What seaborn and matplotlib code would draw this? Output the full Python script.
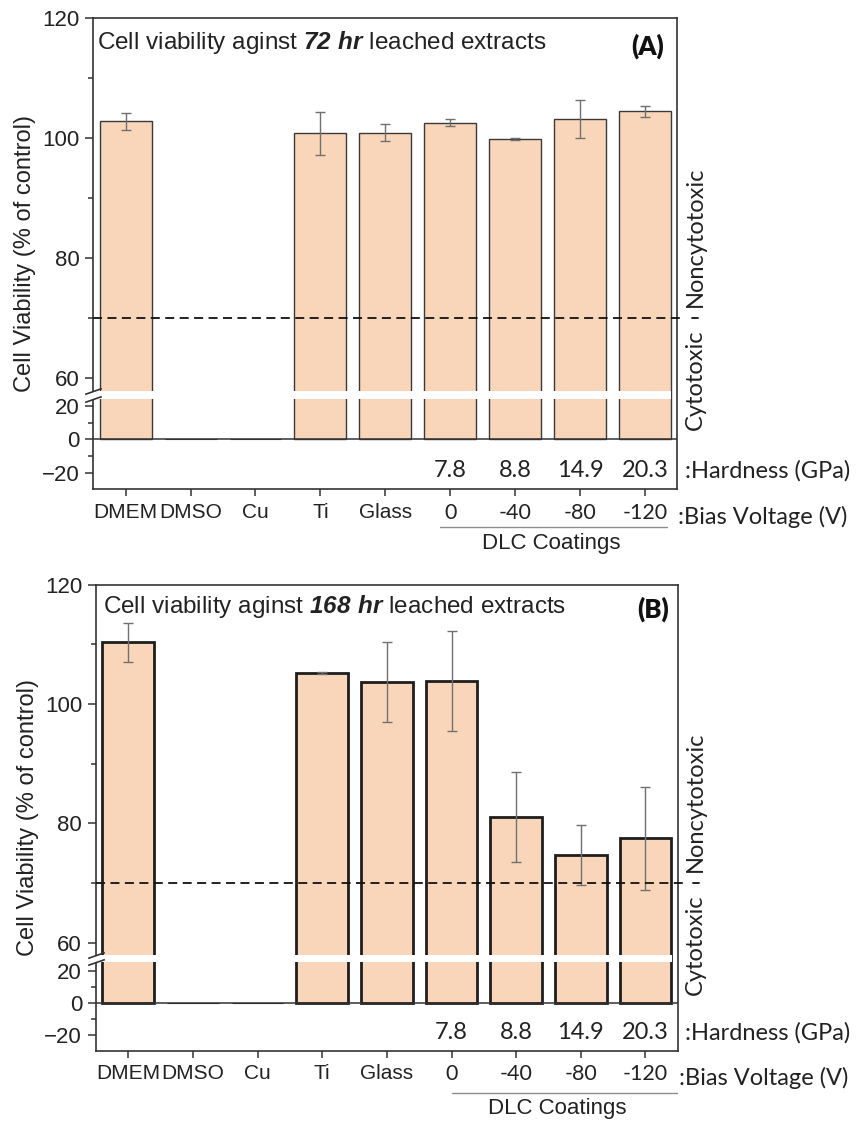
import numpy as np
import pandas as pd
import matplotlib
matplotlib.use("Agg")
import matplotlib.pyplot as plt
import seaborn as sns

# values (% of control)
samples = ["DMEM", "DMSO", "Cu", "Ti", "Glass", "0", "-40", "-80", "-120"]
viab_72 = [102.8, 0, 0, 100.8, 100.9, 102.6, 99.9, 103.2, 104.5]
err_72 = [1.4, 0, 0, 3.6, 1.4, 0.6, 0.15, 3.1, 0.9]
viab_168 = [110.3, 0, 0, 105.2, 103.7, 103.9, 81.1, 74.7, 77.5]
err_168 = [3.3, 0, 0, 0.15, 6.7, 8.4, 7.5, 5.1, 8.6]
hardness = ["7.8", "8.8", "14.9", "20.3"]
cutoff = 70

sns.set_style("ticks")
plt.rcParams["font.family"] = ["Liberation Sans", "DejaVu Sans"]
plt.rcParams["mathtext.fontset"] = "custom"
plt.rcParams["mathtext.rm"] = "Liberation Sans"
plt.rcParams["mathtext.bfit"] = "Liberation Sans:italic:bold"

bar_color = "#F9D6B9"
ink = "#222222"


def broken_scale(ax, ys, ts):
    # piecewise linear y scale: lower part squeezed, gap between ys[1] and ys[2]
    ys = np.asarray(ys, float)
    ts = np.asarray(ts, float)
    lo = (ts[1] - ts[0]) / (ys[1] - ys[0])
    hi = (ts[-1] - ts[-2]) / (ys[-1] - ys[-2])

    def fwd(v):
        v = np.asarray(v, float)
        out = np.interp(v, ys, ts)
        out = np.where(v < ys[0], ts[0] + (v - ys[0]) * lo, out)
        return np.where(v > ys[-1], ts[-1] + (v - ys[-1]) * hi, out)

    def inv(t):
        t = np.asarray(t, float)
        out = np.interp(t, ts, ys)
        out = np.where(t < ts[0], ys[0] + (t - ts[0]) / lo, out)
        return np.where(t > ts[-1], ys[-1] + (t - ts[-1]) / hi, out)

    ax.set_yscale("function", functions=(fwd, inv))


def draw_panel(ax, vals, errs, hours, tag, ys, ts, edge_lw, edge_col,
               title_xy, tag_xy, bias_y, line_x, line_y, dlc_xy):
    df = pd.DataFrame({"sample": samples, "viability": vals})
    sns.barplot(data=df, x="sample", y="viability", order=samples,
                color=bar_color, saturation=1, edgecolor=edge_col,
                linewidth=edge_lw, width=0.8, errorbar=None, ax=ax, zorder=2)
    # empty (zero) bars only show as the baseline
    for p in ax.patches:
        if p.get_height() == 0:
            p.set_linewidth(0.8)
    broken_scale(ax, ys, ts)
    ax.set_ylim(-30, 120)
    ax.set_xlim(-0.5, len(samples) - 0.5)

    xs = np.asarray(ax.get_xticks(), float)
    v = np.asarray(vals, float)
    e = np.asarray(errs, float)
    m = e > 0
    ax.errorbar(xs[m], v[m], yerr=e[m], fmt="none", ecolor="#707070",
                elinewidth=1, capsize=3.3, capthick=1, zorder=4)

    ax.axhline(0, color="#333333", lw=1.1, zorder=3)
    # white gap of the axis break
    ax.axhspan(ys[1], ys[2], xmin=-0.006, xmax=0.99, color="white", lw=0,
               zorder=3.5, clip_on=False)
    ax.plot([0, 0], [ys[1], ys[2]], transform=ax.get_yaxis_transform(),
            ls="none", marker=[(-1, -0.35), (1, 0.35)], ms=12, mew=1.2,
            color="#333333", clip_on=False, zorder=5)

    # cytotoxicity threshold
    yt = ax.get_yaxis_transform()
    ax.plot([0.0, 1.013], [cutoff, cutoff], transform=yt, ls=(0, (5, 3)),
            lw=1.3, color="#111111", clip_on=False, zorder=4)
    ax.plot([1.026, 1.036], [cutoff, cutoff], transform=yt, lw=1.3,
            color="#111111", clip_on=False, zorder=4)
    ax.annotate("Noncytotoxic", xy=(1.031, cutoff), xycoords=yt,
                xytext=(0, 8), textcoords="offset points", rotation=90,
                ha="center", va="bottom", family="Lato", fontsize=17, color=ink)
    ax.annotate("Cytotoxic", xy=(1.031, cutoff), xycoords=yt,
                xytext=(0, -8), textcoords="offset points", rotation=90,
                ha="center", va="top", family="Lato", fontsize=17, color=ink)

    ax.text(title_xy[0], title_xy[1],
            r"Cell viability aginst $\mathbfit{" + hours.replace(" ", r"\ ") + r"}$ leached extracts",
            transform=ax.transAxes, ha="left", va="center", fontsize=17.5, color=ink)
    ax.text(tag_xy[0], tag_xy[1], tag, transform=ax.transAxes, ha="center",
            va="center", family="Lato", weight="heavy", fontsize=18.5, color="#111111")

    for x, h in zip(xs[5:], hardness):
        ax.text(x, -19, h, ha="center", va="center", family="Lato",
                fontsize=17, color=ink)
    ax.text(1.013, -19, ":Hardness (GPa)", transform=yt, ha="left",
            va="center", family="Lato", fontsize=17, color=ink)
    ax.text(1.002, bias_y, ":Bias Voltage (V)", transform=ax.transAxes,
            ha="left", va="center", family="Lato", fontsize=17, color=ink)

    xt = ax.get_xaxis_transform()
    ax.plot(line_x, [line_y, line_y], transform=xt, color="#8c8c8c", lw=1,
            clip_on=False)
    ax.text(dlc_xy[0], dlc_xy[1], "DLC Coatings", transform=xt, ha="center",
            va="center", fontsize=16, color=ink)

    ax.set_yticks([-20, 0, 20, 60, 80, 100, 120])
    ax.set_yticks([-10, 10, 70, 90, 110], minor=True)
    ax.tick_params(axis="y", which="major", length=6, width=1.1,
                   labelsize=16, pad=4, colors="#333333", labelcolor=ink)
    ax.tick_params(axis="y", which="minor", length=3.5, width=1.1,
                   colors="#333333")
    ax.tick_params(axis="x", length=5, width=1.1, labelsize=15, pad=5,
                   colors="#333333", labelcolor=ink)
    for lbl in ax.get_xticklabels()[5:]:
        lbl.set_family("Lato")
        lbl.set_fontsize(15.5)
    ax.set_xlabel("")
    ax.set_ylabel("Cell Viability (% of control)", fontsize=17, color=ink)
    ax.yaxis.set_label_coords(-0.098, 0.5)
    for s in ax.spines.values():
        s.set_linewidth(1.2)
        s.set_color("#333333")


fig = plt.figure(figsize=(8.58, 11.22), dpi=100)
ax_a = fig.add_axes([0.1087, 0.5639, 0.6807, 0.4198])
ax_b = fig.add_axes([0.1119, 0.0637, 0.6780, 0.4153])

draw_panel(ax_a, viab_72, err_72, "72 hr", "(A)",
           [-30, 24.2, 57.9, 120], [0, 90.3, 98.4, 471], 1.0, "#3a3a3a",
           (0.0065, 0.948), (0.95, 0.94), -0.058, [4.84, 8.34], -0.0807,
           (6.56, -0.1146))
draw_panel(ax_b, viab_168, err_168, "168 hr", "(B)",
           [-30, 25.1, 58, 120], [0, 88.1, 95.9, 466], 2.0, "#1e1e1e",
           (0.0115, 0.952), (0.957, 0.948), -0.0594, [5.0, 8.49], -0.0912,
           (6.64, -0.1234))

fig.savefig("out.png", dpi=100)
